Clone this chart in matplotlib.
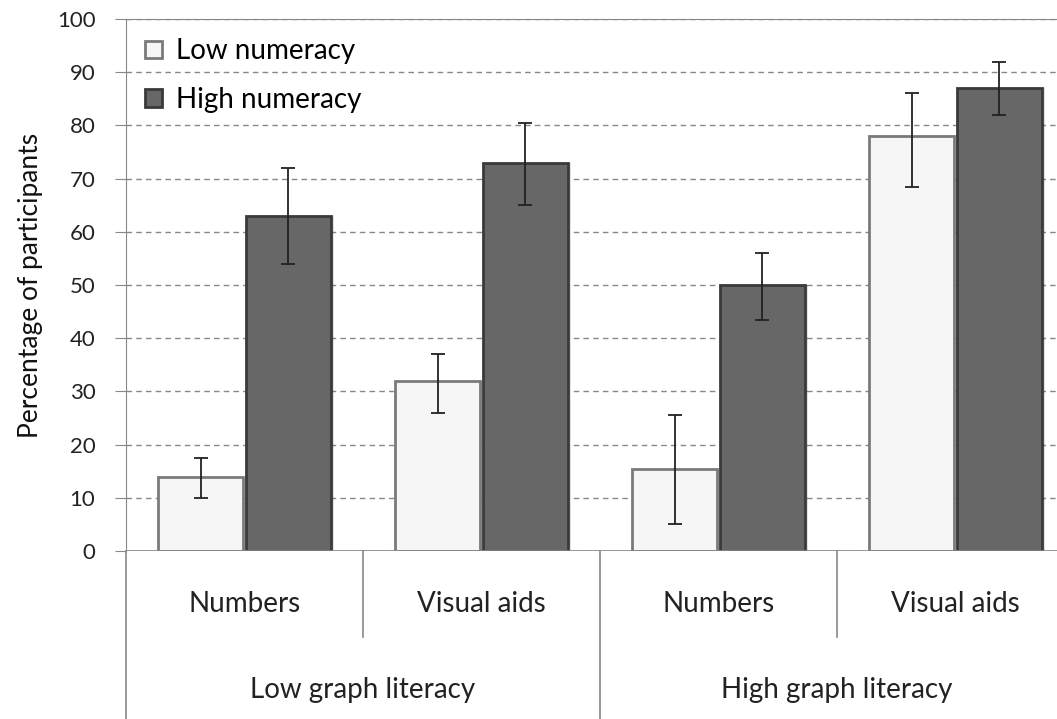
import matplotlib.pyplot as plt
import numpy as np

plt.rcParams['font.family'] = ['Lato', 'DejaVu Sans']

# data
conditions = ["Numbers", "Visual aids", "Numbers", "Visual aids"]
literacy = ["Low graph literacy", "High graph literacy"]
low_num = [14, 32, 15.5, 78]
low_err_lo = [4, 6, 10.5, 9.5]
low_err_hi = [3.5, 5, 10, 8]
high_num = [63, 73, 50, 87]
high_err_lo = [9, 8, 6.5, 5]
high_err_hi = [9, 7.5, 6, 5]

x = np.arange(len(conditions))
w = 0.36
off = 0.185

fig = plt.figure(figsize=(10.57, 7.19), dpi=100)
ax = fig.add_axes([126 / 1057, 1 - 551 / 719, (1074 - 126) / 1057, (551 - 19) / 719])

# soft shadows
for xs, vals in ((x - off, low_num), (x + off, high_num)):
    ax.bar(xs + 0.012, vals, w, color="#000000", alpha=0.12, zorder=2, linewidth=0)

ax.bar(x - off, low_num, w, color="#f6f6f6", edgecolor="#7a7a7a", linewidth=2,
       zorder=3, label="Low numeracy")
ax.bar(x + off, high_num, w, color="#676767", edgecolor="#3a3a3a", linewidth=2,
       zorder=3, label="High numeracy")
ax.errorbar(x - off, low_num, yerr=[low_err_lo, low_err_hi], fmt="none",
            ecolor="#222222", elinewidth=1.3, capsize=5, capthick=1.3, zorder=4)
ax.errorbar(x + off, high_num, yerr=[high_err_lo, high_err_hi], fmt="none",
            ecolor="#222222", elinewidth=1.3, capsize=5, capthick=1.3, zorder=4)

ax.set_xlim(-0.5, 3.5)
ax.set_ylim(0, 100)
ax.set_yticks(range(0, 101, 10))
ax.tick_params(axis="y", labelsize=16, length=8, color="#888888", pad=14,
               labelcolor="#222222")
ax.set_xticks([])
ax.yaxis.grid(True, linestyle=(0, (4, 3)), color="#888888", linewidth=1)
ax.set_axisbelow(True)
for s in ("right", "bottom"):
    ax.spines[s].set_visible(False)
ax.spines["left"].set_color("#888888")
ax.spines["top"].set_color("#888888")
ax.axhline(0, color="#888888", linewidth=1.2, zorder=5)
ax.set_ylabel("Percentage of participants", fontsize=19, labelpad=10,
              color="#111111")

# two-level category axis
tr = ax.get_xaxis_transform()
ax.plot([-0.5, -0.5], [0, -0.316], transform=tr, color="#888888", lw=1.2, clip_on=False)
ax.plot([1.5, 1.5], [0, -0.316], transform=tr, color="#888888", lw=1.2, clip_on=False)
for xv in (0.5, 2.5):
    ax.plot([xv, xv], [0, -0.162], transform=tr, color="#888888", lw=1.2, clip_on=False)
for xi, lab in zip(x, conditions):
    ax.text(xi, -0.10, lab, transform=tr, ha="center", va="center", fontsize=20,
            color="#222222")
for xi, lab in zip((0.5, 2.5), literacy):
    ax.text(xi, -0.262, lab, transform=tr, ha="center", va="center", fontsize=20,
            color="#222222")

leg = ax.legend(loc="upper left", frameon=False, fontsize=20, handlelength=0.6,
                handleheight=0.6, handletextpad=0.5, labelspacing=0.8,
                bbox_to_anchor=(0.0, 1.0), borderaxespad=0.3)

fig.savefig("out.png", dpi=100)
